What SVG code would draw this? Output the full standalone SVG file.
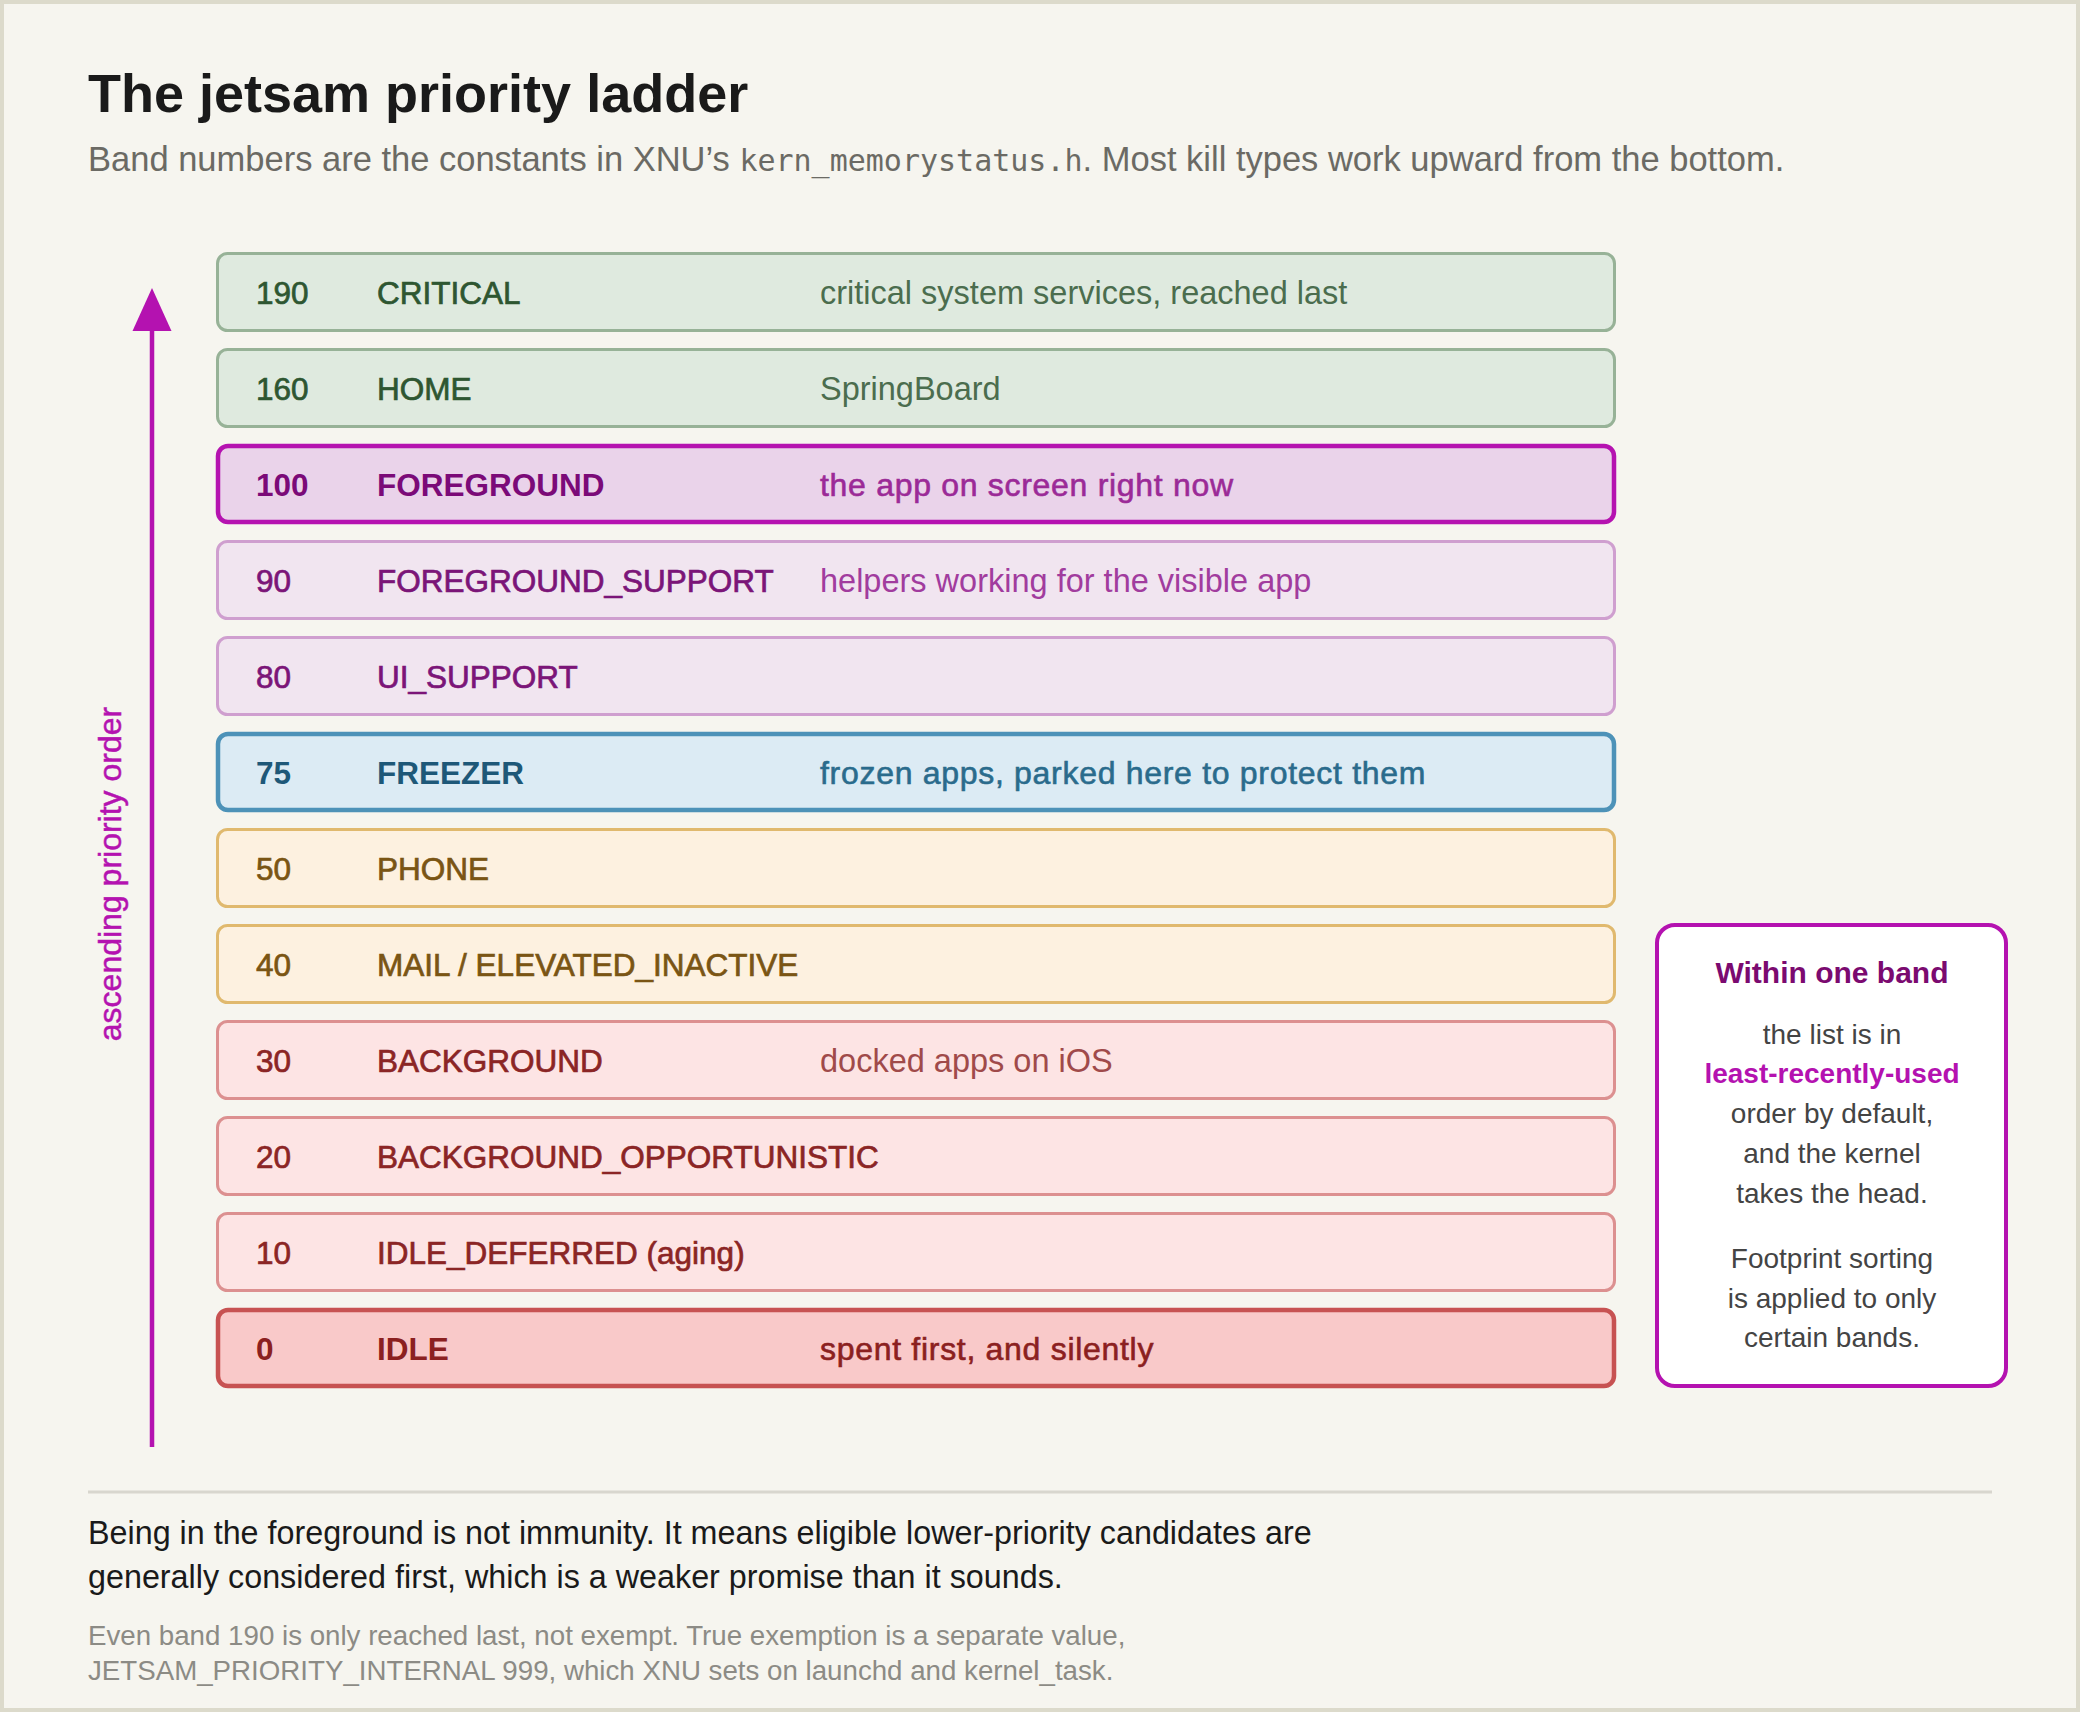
<svg xmlns="http://www.w3.org/2000/svg" width="2080" height="1712" viewBox="0 0 2080 1712">
<style>
text{font-family:"Liberation Sans",Arial,Helvetica,sans-serif}
.title{font-size:54px;font-weight:700;fill:#1a1a1a}
.sub{font-size:34.5px;fill:#6b6a64}
.mono{font-family:"DejaVu Sans Mono","Liberation Mono",monospace;font-size:30px}
.band rect{stroke-width:3}
.num,.name{font-size:31.5px;stroke-width:0.7px}
.desc{font-size:32.5px}
.hl .num,.hl .name{font-weight:700;stroke-width:0}
.hl .desc{font-size:32px;letter-spacing:0.7px;stroke-width:0.6px}
.hl rect{stroke-width:4.5}
.g rect{fill:#dfeadf;stroke:#97b297}.g .num,.g .name{fill:#2e5631;stroke:#2e5631}.g .desc{fill:#4b6d4e}
.fg rect{fill:#ead3ea;stroke:#b513b0}.fg .num,.fg .name{fill:#7b0a78}.fg .desc{fill:#9b2a97;stroke:#9b2a97}
.sp rect{fill:#f1e5f0;stroke:#cf9fcf}.sp .num,.sp .name{fill:#7b1578;stroke:#7b1578}.sp .desc{fill:#a13c9e}
.fz rect{fill:#dcebf4;stroke:#4d92b8}.fz .num,.fz .name{fill:#1e5878}.fz .desc{fill:#2a6b8c;stroke:#2a6b8c}
.y rect{fill:#fdf1e0;stroke:#e0b96e}.y .num,.y .name{fill:#7a5514;stroke:#7a5514}
.r rect{fill:#fde4e4;stroke:#dc9090}.r .num,.r .name{fill:#8b2525;stroke:#8b2525}.r .desc{fill:#a04a4a}
.id rect{fill:#f9c9c9;stroke:#c75252}.id .num,.id .name,.id .desc{fill:#8b2020}.id .desc{stroke:#8b2020}
.side{font-size:28px;fill:#444444;text-anchor:middle}
.side-title{font-size:30px;font-weight:700;fill:#7b0a70;text-anchor:middle}
.side-em{font-size:28px;font-weight:700;fill:#b412b0;text-anchor:middle}
.foot1{font-size:32.3px;fill:#1a1a1a}
.foot2{font-size:27.7px;fill:#8c8b85}
</style>
<rect x="0" y="0" width="2080" height="1712" fill="#f6f5ef"/>
<rect x="2" y="2" width="2076" height="1708" fill="none" stroke="#dcdacb" stroke-width="4"/>

<g id="header">
<text class="title" x="88" y="112">The jetsam priority ladder</text>
<text class="sub" x="88" y="171">Band numbers are the constants in XNU’s <tspan class="mono">kern_memorystatus.h</tspan>. Most kill types work upward from the bottom.</text>
</g>

<g id="connectors">
<line x1="152" y1="1447" x2="152" y2="326" stroke="#b412b0" stroke-width="4.5"/>
<polygon points="152,288 171.5,331 132.5,331" fill="#b412b0"/>
<text x="121" y="874" transform="rotate(-90 121 874)" text-anchor="middle" font-size="32" fill="#b412b0" stroke="#b412b0" stroke-width="0.5">ascending priority order</text>
</g>

<g id="band-190" class="band g"><rect x="217.5" y="253.5" width="1397" height="77" rx="10"/><text class="num" x="256" y="304">190</text><text class="name" x="377" y="304">CRITICAL</text><text class="desc" x="820" y="304">critical system services, reached last</text></g>
<g id="band-160" class="band g"><rect x="217.5" y="349.5" width="1397" height="77" rx="10"/><text class="num" x="256" y="400">160</text><text class="name" x="377" y="400">HOME</text><text class="desc" x="820" y="400">SpringBoard</text></g>
<g id="band-100" class="band fg hl"><rect x="218" y="446" width="1396" height="76" rx="10"/><text class="num" x="256" y="496">100</text><text class="name" x="377" y="496">FOREGROUND</text><text class="desc" x="820" y="496">the app on screen right now</text></g>
<g id="band-90" class="band sp"><rect x="217.5" y="541.5" width="1397" height="77" rx="10"/><text class="num" x="256" y="592">90</text><text class="name" x="377" y="592">FOREGROUND_SUPPORT</text><text class="desc" x="820" y="592">helpers working for the visible app</text></g>
<g id="band-80" class="band sp"><rect x="217.5" y="637.5" width="1397" height="77" rx="10"/><text class="num" x="256" y="688">80</text><text class="name" x="377" y="688">UI_SUPPORT</text></g>
<g id="band-75" class="band fz hl"><rect x="218" y="734" width="1396" height="76" rx="10"/><text class="num" x="256" y="784">75</text><text class="name" x="377" y="784">FREEZER</text><text class="desc" x="820" y="784">frozen apps, parked here to protect them</text></g>
<g id="band-50" class="band y"><rect x="217.5" y="829.5" width="1397" height="77" rx="10"/><text class="num" x="256" y="880">50</text><text class="name" x="377" y="880">PHONE</text></g>
<g id="band-40" class="band y"><rect x="217.5" y="925.5" width="1397" height="77" rx="10"/><text class="num" x="256" y="976">40</text><text class="name" x="377" y="976">MAIL / ELEVATED_INACTIVE</text></g>
<g id="band-30" class="band r"><rect x="217.5" y="1021.5" width="1397" height="77" rx="10"/><text class="num" x="256" y="1072">30</text><text class="name" x="377" y="1072">BACKGROUND</text><text class="desc" x="820" y="1072">docked apps on iOS</text></g>
<g id="band-20" class="band r"><rect x="217.5" y="1117.5" width="1397" height="77" rx="10"/><text class="num" x="256" y="1168">20</text><text class="name" x="377" y="1168">BACKGROUND_OPPORTUNISTIC</text></g>
<g id="band-10" class="band r"><rect x="217.5" y="1213.5" width="1397" height="77" rx="10"/><text class="num" x="256" y="1264">10</text><text class="name" x="377" y="1264">IDLE_DEFERRED (aging)</text></g>
<g id="band-0" class="band id hl"><rect x="218" y="1310" width="1396" height="76" rx="10"/><text class="num" x="256" y="1360">0</text><text class="name" x="377" y="1360">IDLE</text><text class="desc" x="820" y="1360">spent first, and silently</text></g>

<g id="side-note">
<rect x="1657" y="925" width="349" height="461" rx="18" fill="#ffffff" stroke="#b412b0" stroke-width="4"/>
<text class="side-title" x="1832" y="983">Within one band</text>
<text class="side" x="1832" y="1044">the list is in</text>
<text class="side-em" x="1832" y="1083">least-recently-used</text>
<text class="side" x="1832" y="1123">order by default,</text>
<text class="side" x="1832" y="1163">and the kernel</text>
<text class="side" x="1832" y="1203">takes the head.</text>
<text class="side" x="1832" y="1268">Footprint sorting</text>
<text class="side" x="1832" y="1308">is applied to only</text>
<text class="side" x="1832" y="1347">certain bands.</text>
</g>

<g id="footer">
<line x1="88" y1="1492" x2="1992" y2="1492" stroke="#d8d6ce" stroke-width="3"/>
<text class="foot1" x="88" y="1544">Being in the foreground is not immunity. It means eligible lower-priority candidates are</text>
<text class="foot1" x="88" y="1588">generally considered first, which is a weaker promise than it sounds.</text>
<text class="foot2" x="88" y="1645">Even band 190 is only reached last, not exempt. True exemption is a separate value,</text>
<text class="foot2" x="88" y="1680">JETSAM_PRIORITY_INTERNAL 999, which XNU sets on launchd and kernel_task.</text>
</g>
</svg>
